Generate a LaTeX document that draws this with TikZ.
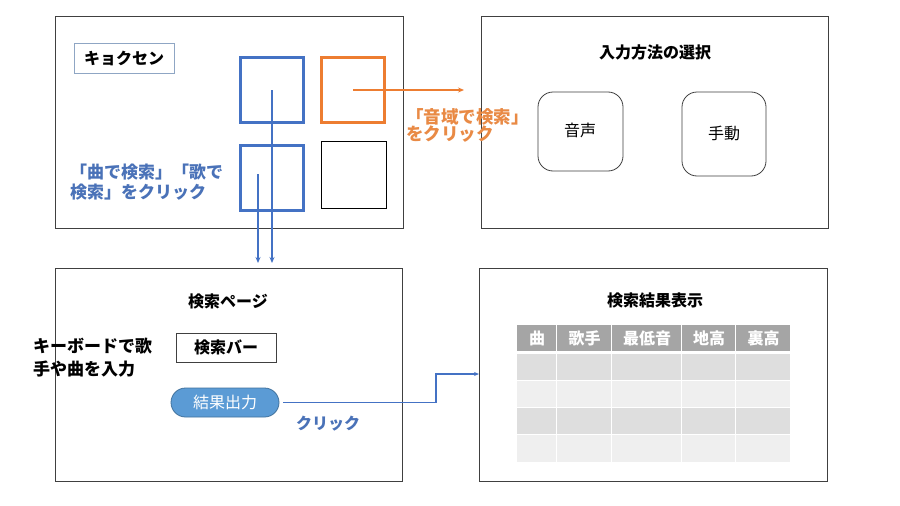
\documentclass[tikz,border=0pt]{standalone}
\usepackage{fontspec}
\setmainfont{Noto Sans CJK JP}
\definecolor{pborder}{HTML}{404040}
\definecolor{mblue}{HTML}{4472C4}
\definecolor{morange}{HTML}{ED7D31}
\definecolor{tblue}{HTML}{4A72B8}
\definecolor{torange}{HTML}{E98A45}
\definecolor{kborder}{HTML}{8FA6C4}
\definecolor{resfill}{HTML}{5B9BD5}
\definecolor{resdraw}{HTML}{41719C}
\definecolor{hdr}{HTML}{A5A5A5}
\definecolor{rowa}{HTML}{DEDEDE}
\definecolor{rowb}{HTML}{EFEFEF}
\tikzset{
  x=1pt,y=-1pt,
  panel/.style={draw=pborder,line width=1pt,inner sep=0pt,outer sep=0pt},
  sqbox/.style={line width=3pt,inner sep=0pt,outer sep=0pt,minimum width=63pt,minimum height=65pt},
  rbox/.style={draw=pborder,line width=0.8pt,rounded corners=15pt,inner sep=0pt},
  txt/.style={font=\fontsize{16}{20}\selectfont,inner sep=0pt},
  btxt/.style={font=\fontsize{16}{20}\selectfont\bfseries,inner sep=0pt},
  conn/.style={draw=mblue,line width=1.2pt,-{Stealth[length=6pt,width=5pt]}},
}
\usetikzlibrary{arrows.meta}
\begin{document}
\begin{tikzpicture}
\useasboundingbox (0,0) rectangle (900,506);
\fill[white] (0,0) rectangle (900,506);
% panels
\node[panel,minimum width=348pt,minimum height=212pt] (b1) at (229,122) {};
\node[panel,minimum width=347pt,minimum height=212pt] (b2) at (654.5,122) {};
\node[panel,minimum width=347pt,minimum height=213pt] (b3) at (228.5,374.5) {};
\node[panel,minimum width=348pt,minimum height=213pt] (b4) at (653,374.5) {};
% panel 1
\node[draw=kborder,line width=0.8pt,minimum width=100pt,minimum height=30pt,btxt] (kyo) at (124,58) {キョクセン};
\node[sqbox,draw=mblue] (sq1) at (272,90) {};
\node[sqbox,draw=morange] (sqo) at (353,90) {};
\node[sqbox,draw=mblue] (sq2) at (272,178) {};
\node[draw=black,line width=0.8pt,minimum width=65pt,minimum height=67pt,inner sep=0pt] (sqk) at (353.5,174.5) {};
\node[inner sep=0pt,text=tblue,align=left,anchor=west,font=\fontsize{17}{20}\selectfont\bfseries] (bluetxt) at (70,182.5) {「曲で検索」「歌で\\検索」をクリック};
\node[inner sep=0pt,text=torange,align=left,anchor=west,font=\fontsize{17.5}{17}\selectfont\bfseries] (orgtxt) at (406,125.5) {「音域で検索」\\をクリック};
% connectors from panel 1
\coordinate (d1) at (272,263);
\coordinate (s2) at (258,174);
\coordinate (d2) at (258,263);
\draw[conn] (sq1.center) -- (d1);
\draw[conn] (s2) -- (d2);
\coordinate (oend) at (464,90);
\draw[draw=morange,line width=1.2pt,-{Stealth[length=6pt,width=5pt]}] (sqo.center) -- (oend);
% panel 2
\node[btxt] (t2) at (655,52) {入力方法の選択};
\node[rbox,minimum width=85pt,minimum height=79pt] (voice) at (580.5,131.5) {};
\node[txt] (voicet) at (580,130) {音声};
\node[rbox,minimum width=84pt,minimum height=84pt] (hand) at (724,134) {};
\node[txt] (handt) at (724,133) {手動};
% panel 3
\node[btxt] (t3) at (228,301) {検索ページ};
\node[draw=pborder,line width=0.8pt,minimum width=100pt,minimum height=29pt,btxt] (bar) at (226,347.5) {検索バー};
\node[inner sep=0pt,align=left,anchor=west,font=\fontsize{17}{23}\selectfont\bfseries] (kbd) at (33,357.5) {キーボードで歌\\手や曲を入力};
\node[fill=resfill,draw=resdraw,line width=0.8pt,rounded corners=14.5pt,minimum width=108pt,minimum height=29pt,inner sep=0pt,txt,text=white] (res) at (225,402.5) {結果出力};
\node[btxt,text=tblue] (click) at (328,424) {クリック};
\coordinate (t1) at (436,374);
\coordinate (tend) at (479,374);
\draw[conn,-{Stealth[length=5pt,width=4pt]}] ([xshift=4pt]res.east) -| (t1) -- (tend);
% panel 4
\node[btxt] (t4) at (655,300) {検索結果表示};
\def\colx{{517,557,612,682,736,791}}
\foreach \i in {0,...,4}{
  \pgfmathsetmacro\xa{\colx[\i]}
  \pgfmathsetmacro\xb{\colx[\i+1]}
  \fill[hdr] (\xa,325) rectangle (\xb,351);
  \draw[white,line width=1.2pt] (\xb,325) -- (\xb,351);
  \fill[rowa] (\xa,353.5) rectangle (\xb,380);
  \fill[rowb] (\xa,380) rectangle (\xb,407);
  \fill[rowa] (\xa,407) rectangle (\xb,434);
  \fill[rowb] (\xa,434) rectangle (\xb,462);
  \draw[white,line width=1.2pt] (\xb,353.5) -- (\xb,462);
}
\draw[white,line width=1pt] (517,380) -- (791,380) (517,407) -- (791,407) (517,434) -- (791,434);
\node[btxt,text=white] (h1) at (537,338) {曲};
\node[btxt,text=white] (h2) at (584.5,338) {歌手};
\node[btxt,text=white] (h3) at (647,338) {最低音};
\node[btxt,text=white] (h4) at (709,338) {地高};
\node[btxt,text=white] (h5) at (763.5,338) {裏高};
\end{tikzpicture}
\end{document}
